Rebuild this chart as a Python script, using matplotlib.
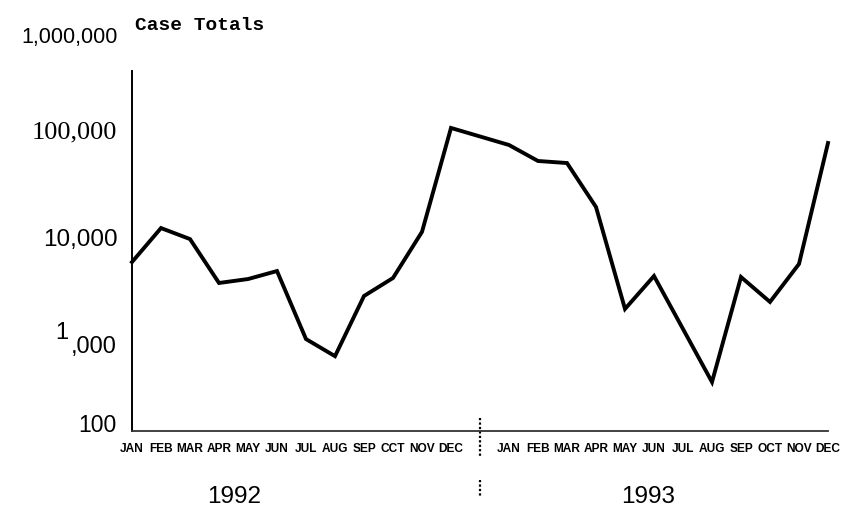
import matplotlib
matplotlib.use("Agg")
import matplotlib.pyplot as plt
import matplotlib.transforms as mtransforms
from matplotlib import font_manager
import numpy as np

# ---- data ----
months_1992 = ["JAN", "FEB", "MAR", "APR", "MAY", "JUN", "JUL", "AUG", "SEP", "CCT", "NOV", "DEC"]
months_1993 = ["JAN", "FEB", "MAR", "APR", "MAY", "JUN", "JUL", "AUG", "SEP", "OCT", "NOV", "DEC"]
cases_1992 = [6250, 12900, 10200, 4000, 4350, 5160, 1210, 840, 3030, 4450, 11900, 109000]
cases_1993 = [75800, 53900, 51600, 20200, 2300, 4640, 1500, 484, 4540, 2670, 6000, 79100]
years = ["1992", "1993"]
ytick_vals = [1e4, 1e5]
ytick_labels = ["10,000", "100,000"]

W, H = 846, 509
fig = plt.figure(figsize=(W / 100, H / 100), dpi=100)

def fx(px):
    return px / W

def fy(py):
    return (H - py) / H

ax = fig.add_axes([fx(132), fy(431), fx(828) - fx(132), fy(71) - fy(431)])

x92 = np.arange(12)
x93 = np.arange(12) + 13
x_all = np.concatenate([x92, x93])
y_all = np.array(cases_1992 + cases_1993, dtype=float)

ax.plot(x_all, y_all, color="black", lw=2.8, solid_joinstyle="miter", clip_on=False, zorder=3)

ax.set_yscale("log")
# decade = 108 px, 1e5 at y=132 px
ax.set_ylim(10 ** (5 - (431 - 132) / 108), 10 ** (5 + (132 - 71) / 108))
ax.set_xlim(0, 24)

for s in ["top", "right"]:
    ax.spines[s].set_visible(False)
ax.spines["left"].set_linewidth(1.4)
ax.spines["left"].set_color("black")
ax.spines["bottom"].set_linewidth(1.3)
ax.spines["bottom"].set_color("#333333")

ax.set_yticks([])
ax.yaxis.set_minor_locator(matplotlib.ticker.NullLocator())

avail = {f.name for f in font_manager.fontManager.ttflist}
narrow = "Liberation Sans Narrow" if "Liberation Sans Narrow" in avail else "Liberation Sans"
msize = 10 if narrow == "Liberation Sans Narrow" else 8.6

ax.set_xticks(x_all)
ax.set_xticklabels(months_1992 + months_1993, family=narrow, fontweight="bold", fontsize=msize)
ax.tick_params(axis="x", length=0, pad=9)

# y labels
trans = mtransforms.blended_transform_factory(ax.transAxes, ax.transData)
fams = {1e4: "Liberation Sans", 1e5: "Liberation Serif"}
sizes = {1e4: 17.5, 1e5: 19}
for v, lab in zip(ytick_vals, ytick_labels):
    ax.text(-0.021, v, lab, transform=trans, ha="right", va="center",
            family=fams[v], fontsize=sizes[v], color="black")

fig.text(fx(117), fy(347), ",000", ha="right", va="center", family="Liberation Sans", fontsize=17)
fig.text(fx(68), fy(333), "1", ha="right", va="center", family="Liberation Sans", fontsize=17)
fig.text(fx(116), fy(425), "100", ha="right", va="center", family="Liberation Sans", fontsize=16.5)
fig.text(fx(118), fy(38), "1,000,000", ha="right", va="center", family="Liberation Sans", fontsize=15.5)
fig.text(fx(135), fy(25), "Case Totals", ha="left", va="center", family="Liberation Mono",
         fontweight="bold", fontsize=14)

# year labels
fig.text(fx(234), fy(497), years[0], ha="center", va="center", family="Liberation Sans", fontsize=17.5)
fig.text(fx(648), fy(497), years[1], ha="center", va="center", family="Liberation Sans", fontsize=17.5)

# dotted divider between years
tb = mtransforms.blended_transform_factory(ax.transData, ax.transAxes)
h = 431 - 71
for a, b in [(418, 458), (480, 497)]:
    ax.plot([12, 12], [(431 - a) / h, (431 - b) / h], transform=tb, color="black",
            lw=1.6, ls=(0, (1, 1)), clip_on=False)

fig.savefig("out.png", dpi=100)
